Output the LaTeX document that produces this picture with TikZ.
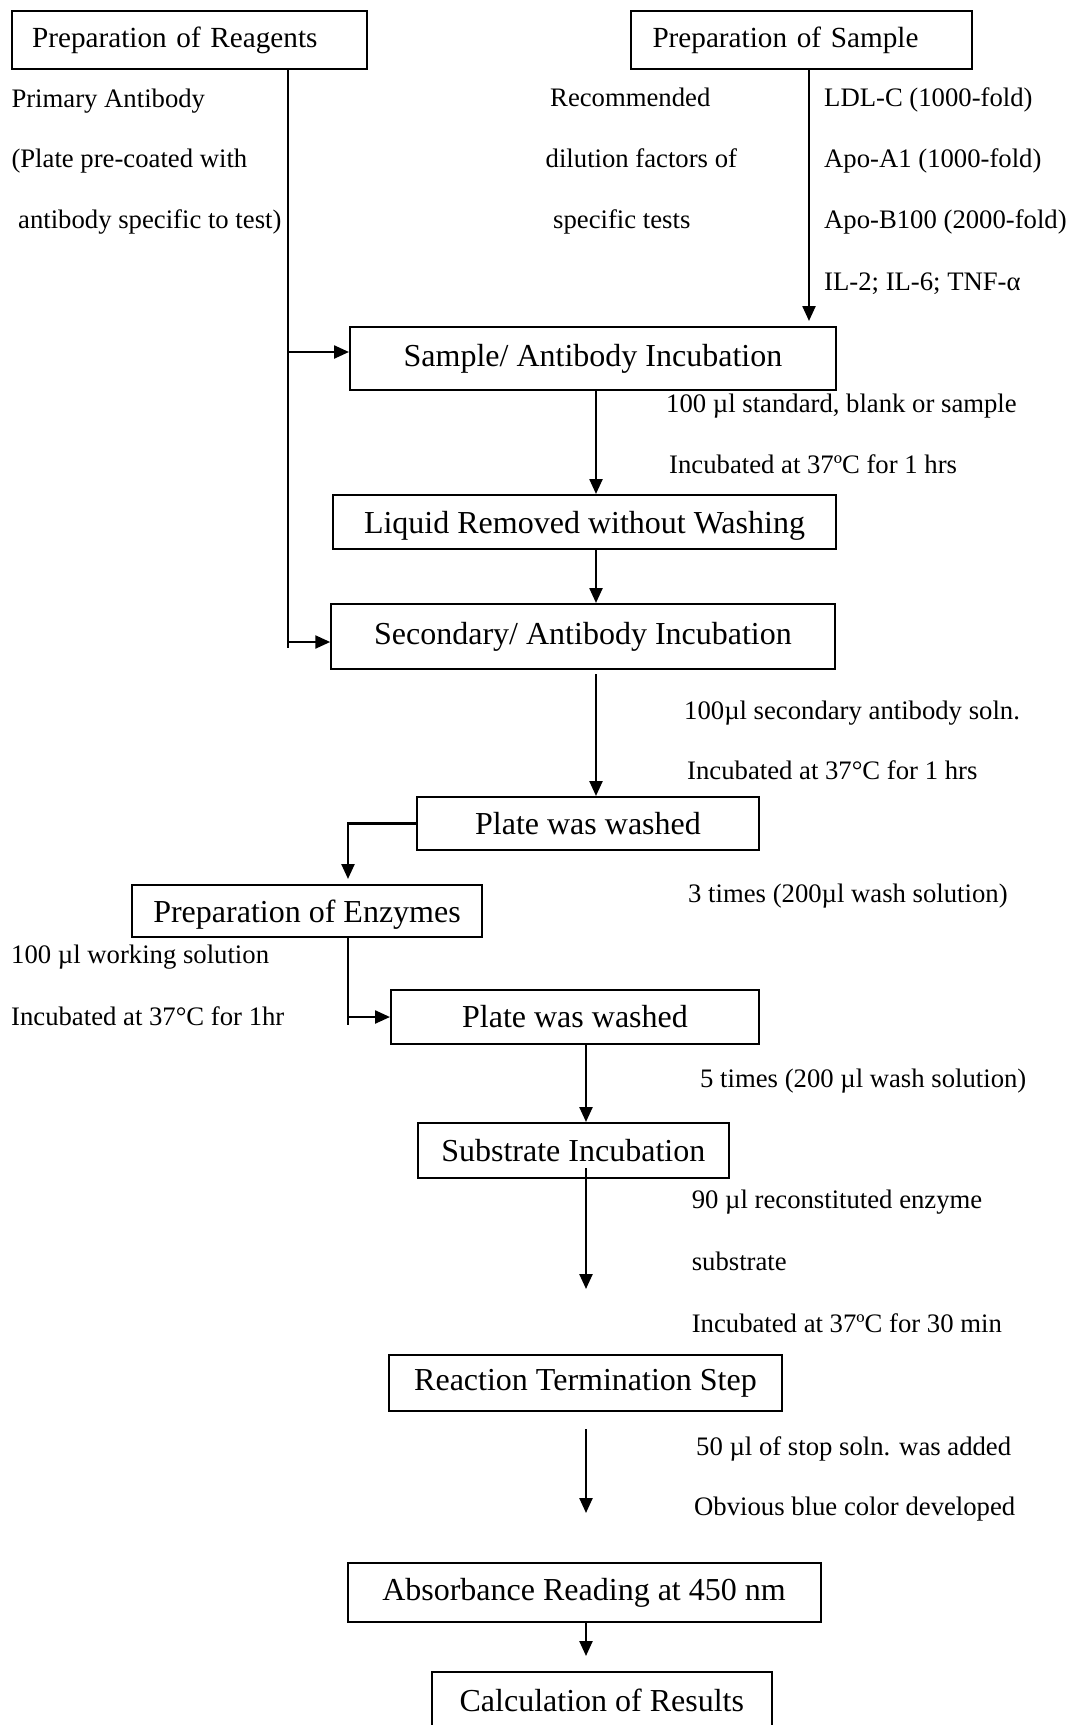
\documentclass[tikz,border=0pt]{standalone}
\usepackage{fontspec}
\setmainfont{Liberation Serif}
\usepackage{tikz}
\usetikzlibrary{arrows.meta}
\usetikzlibrary{calc}

\begin{document}
\begin{tikzpicture}[x=0.5pt, y=-0.5pt, line width=1.2pt,
    >={Triangle[length=7.5pt,width=6.5pt]},
    box/.style={draw, line width=1pt, inner sep=0pt, font=\fontsize{16}{19}\selectfont},
    topbox/.style={draw, line width=1pt, inner ysep=0pt, align=left, font=\fontsize{14.6}{17}\selectfont},
    note/.style={anchor=base west, inner sep=0pt, font=\fontsize{13.35}{16}\selectfont}]

  \useasboundingbox (0,0) rectangle (1071,1725);
  \clip (0,0) rectangle (1071,1725);

  \node [topbox, minimum height=29.3pt, text width=156.9pt, inner xsep=10.3pt] (prep_reag) at (189,40) {Preparation of Reagents};
  \node [topbox, minimum height=29pt, text width=149pt, inner xsep=10.75pt] (prep_samp) at (801.5,40) {Preparation of Sample};

  \node [box, minimum width=243pt, minimum height=31.5pt] (inc_samp) at (593,358.5) {Sample/ Antibody Incubation};
  \node [box, minimum width=251.5pt, minimum height=27pt, text depth=0pt] (liq_rem) at (584.5,522) {Liquid Removed without Washing};
  \node [box, minimum width=251.75pt, minimum height=32.5pt] (inc_sec) at (583,636.5) {Secondary/ Antibody Incubation};
  \node [box, minimum width=171pt, minimum height=26.5pt] (wash_1) at (588,823.5) {Plate was washed};
  \node [box, minimum width=175.2pt, minimum height=26pt, text depth=0pt] (prep_enz) at (307,911) {Preparation of Enzymes};
  \node [box, minimum width=184pt, minimum height=27pt] (wash_2) at (575,1017) {Plate was washed};
  \node [box, minimum width=155.3pt, minimum height=27.5pt] (inc_sub) at (573.3,1150.5) {Substrate Incubation};
  \node [box, minimum width=196.5pt, minimum height=28pt] (stop) at (585.5,1383) {Reaction Termination Step};
  \node [box, minimum width=236.5pt, minimum height=29.5pt] (absorb) at (584,1592.5) {Absorbance Reading at 450 nm};
  \node [box, minimum width=170.2pt, minimum height=28pt] (result) at (601.8,1700) {Calculation of Results};

  \node [note] (n_prim) at (10.3,107) {Primary Antibody};
  \node [note] (n_plate) at (10.3,167) {(Plate pre-coated with};
  \node [note] (n_spec) at (17,228) {antibody specific to test)};
  \node [note] (n_rec) at (549,106) {Recommended};
  \node [note] (n_dil) at (544.5,167) {dilution factors of};
  \node [note] (n_tests) at (552,228) {specific tests};
  \node [note] (n_ldl) at (823,106) {LDL-C (1000-fold)};
  \node [note] (n_apoa) at (823,167) {Apo-A1 (1000-fold)};
  \node [note] (n_apob) at (823,228) {Apo-B100 (2000-fold)};
  \node [note] (n_il) at (823,290) {IL-2; IL-6; TNF-α};
  \node [note] (n_std) at (665,412) {100 µl standard, blank or sample};
  \node [note] (n_inc_1) at (668,473) {Incubated at 37ºC for 1 hrs};
  \node [note] (n_sec) at (683,719) {100µl secondary antibody soln.};
  \node [note] (n_inc_2) at (686,779) {Incubated at 37°C for 1 hrs};
  \node [note] (n_wash_1) at (687,902) {3 times (200µl wash solution)};
  \node [note] (n_work) at (10,963) {100 µl working solution};
  \node [note] (n_inc_3) at (10,1025) {Incubated at 37°C for 1hr};
  \node [note] (n_wash_2) at (699,1087) {5 times (200 µl wash solution)};
  \node [note] (n_enz) at (690.6,1208) {90 µl reconstituted enzyme};
  \node [note] (n_sub) at (690.6,1270) {substrate};
  \node [note] (n_inc_4) at (690.6,1332) {Incubated at 37ºC for 30 min};
  \node [note] (n_stop) at (695,1455) {50 µl of stop soln. was added};
  \node [note] (n_blue) at (693,1515) {Obvious blue color developed};

  \coordinate (reag_bus) at (288,648);
  \coordinate (samp_bus) at (809,0);
  \coordinate (axis) at (596,0);
  \coordinate (enz_bus) at (348,1025);
  \coordinate (axis_low) at (586,0);
  \coordinate (sub_end) at (586,1289);
  \coordinate (stop_out) at (586,1429);
  \coordinate (stop_end) at (586,1513);
  \coordinate (absorb_end) at (586,1656);
  \coordinate (samp_in) at ($(inc_samp.west)+(0,-6.5)$);
  \coordinate (sec_in) at ($(inc_sec.west)+(0,5.5)$);

  \draw (prep_reag.south -| reag_bus) -- (reag_bus);
  \draw (prep_enz.south -| enz_bus) -- (enz_bus);

  \path [->]
    (samp_in -| reag_bus)       edge (samp_in)
    (sec_in -| reag_bus)        edge (sec_in)
    (prep_samp.south -| samp_bus) edge [shorten >=2.5pt] (inc_samp.north -| samp_bus)
    (inc_samp.south -| axis)    edge (liq_rem.north -| axis)
    (liq_rem.south -| axis)     edge (inc_sec.north -| axis)
    (inc_sec.south -| axis)     edge [shorten <=2pt] (wash_1.north -| axis)
    (wash_2.west -| enz_bus)    edge (wash_2.west)
    (wash_2.south -| axis_low)  edge (inc_sub.north -| axis_low)
    ($(inc_sub.south -| axis_low)+(0,-11)$) edge (sub_end)
    (stop_out)                  edge (stop_end)
    (absorb.south -| axis_low)  edge (absorb_end);

  \draw [->, shorten >=2.5pt] (wash_1.west) -| (prep_enz.north -| enz_bus);

\end{tikzpicture}
\end{document}
